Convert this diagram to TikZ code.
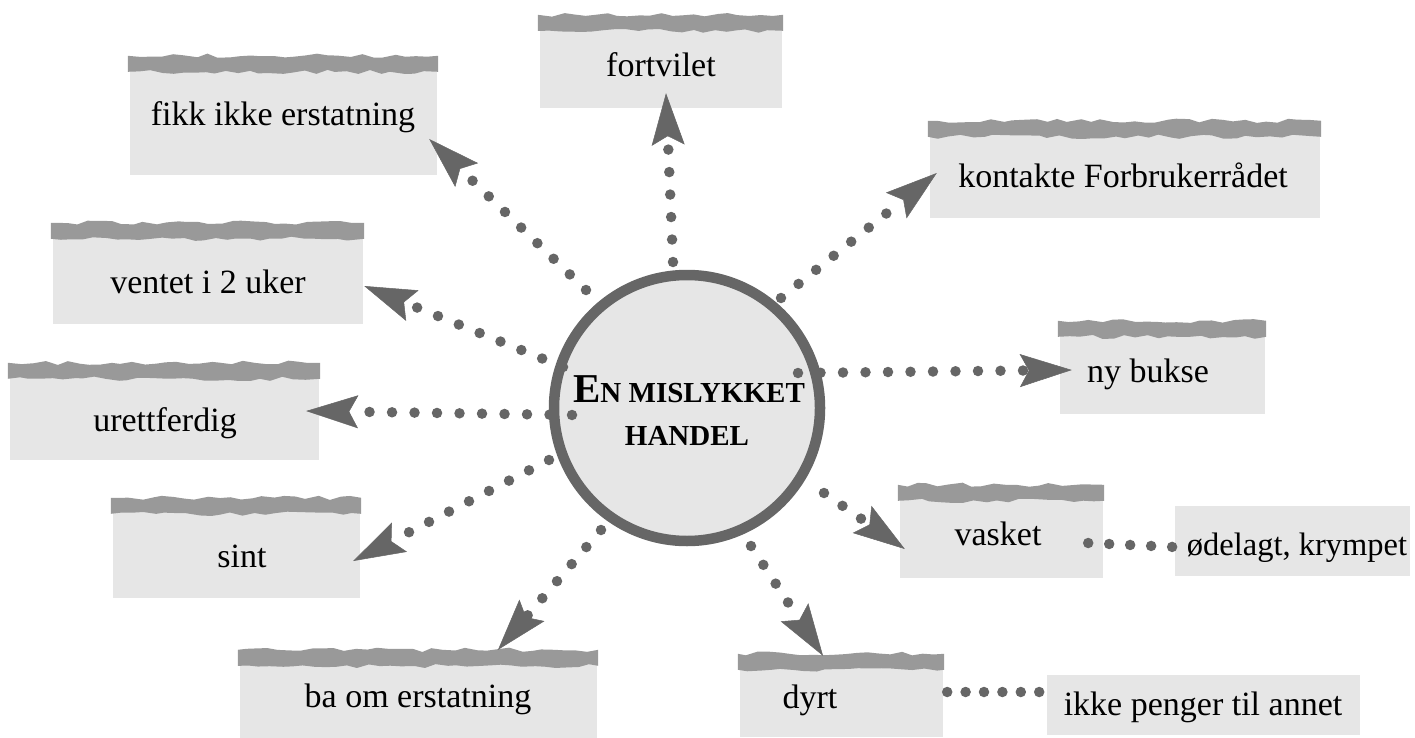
\documentclass[tikz,border=0pt]{standalone}
\usepackage{fontspec}
\setmainfont{Liberation Serif}
\usetikzlibrary{arrows.meta,decorations.pathmorphing,calc}
\definecolor{boxgray}{HTML}{E6E6E6}
\definecolor{stripgray}{HTML}{999999}
\definecolor{dotgray}{HTML}{666666}
\begin{document}
\begin{tikzpicture}[x=1pt,y=-1pt,
  box/.style={fill=boxgray, inner sep=0pt, draw=none},
  lbl/.style={font=\fontsize{34}{38}\selectfont, anchor=base, inner sep=0pt},
  strip/.style={fill=stripgray, decorate, decoration={random steps, segment length=11pt, amplitude=2.2pt}},
  dots/.style={draw=dotgray, line width=10.5pt, line cap=round, dash pattern=on 0pt off 22.5pt},
  arr/.style={dots, -{Stealth[length=52pt, width=33pt, inset=9pt, line width=0.5pt, fill=dotgray]}},
  ttl/.style={anchor=base, inner sep=0pt, font=\bfseries\fontsize{29}{34}\selectfont},
]
\pgfmathsetseed{11}
\useasboundingbox (0,0) rectangle (1415,738);

% boxes
\node[box, minimum width=242pt, minimum height=81pt] (b1) at (661,67.5) {};
\node[box, minimum width=307pt, minimum height=107pt] (b2) at (283.5,121.5) {};
\node[box, minimum width=390pt, minimum height=85pt] (b3) at (1125,175.5) {};
\node[box, minimum width=310pt, minimum height=89pt] (b4) at (208,279.5) {};
\node[box, minimum width=309pt, minimum height=85pt] (b5) at (164.5,417.5) {};
\node[box, minimum width=205pt, minimum height=81pt] (b6) at (1162.5,373.5) {};
\node[box, minimum width=247pt, minimum height=88pt] (b7) at (236.5,554) {};
\node[box, minimum width=357pt, minimum height=76pt] (b8) at (418.5,700) {};
\node[box, minimum width=203pt, minimum height=71pt] (b9) at (841.5,701.5) {};
\node[box, minimum width=203pt, minimum height=81pt] (b10) at (1001.5,537.5) {};
\node[box, minimum width=235pt, minimum height=70pt] (b11) at (1292.5,541) {};
\node[box, minimum width=313pt, minimum height=60pt] (b12) at (1203.5,705) {};

% torn strips
\foreach \b in {b1,b2,b3,b4,b5,b6,b7,b8,b9,b10}{
  \fill[strip] ($(\b.north west)+(-2,-12)$) rectangle ($(\b.north east)+(1,4)$);
}

% plain dotted links
\draw[dots, dash pattern=on 0pt off 21pt] ($(b10.east)+(-15,5.5)$) -- ($(b11.west)+(-1,6)$);
\draw[dots, dash pattern=on 0pt off 18.4pt] ($(b9.east)+(4,-9.5)$) -- ($(b12.west)+(-6,-13)$);

% centre circle fill
\node[circle, fill=boxgray, minimum size=266pt, inner sep=0pt] (c) at (687,408) {};

% arrows
\draw[arr] ($(c.center)+(-14,-146)$) -- ($(b1.south)+(5,-15)$);
\draw[arr] ($(c.center)+(-101,-118)$) -- ($(b2.east)+(-8,17.5)$);
\draw[arr] ($(c.center)+(94,-110)$) -- ($(b3.west)+(7,-2.5)$);
\draw[arr] ($(c.center)+(-124,-41)$) -- ($(b4.east)+(1,6.5)$);
\draw[arr] ($(c.center)+(-115,7)$) -- ($(b5.east)+(-13,-6.5)$);
\draw[arr] ($(c.center)+(111,-35)$) -- ($(b6.west)+(12,-3.5)$);
\draw[arr] ($(c.center)+(-138,52)$) -- ($(b7.east)+(-7,7)$);
\draw[arr] ($(c.center)+(-86,122)$) -- ($(b8.north)+(79.5,-12)$);
\draw[arr] ($(c.center)+(64,138)$) -- ($(b9.north)+(-18.5,-10)$);
\draw[arr] ($(c.center)+(137,85)$) -- ($(b10.west)+(5,11.5)$);

% ring
\draw[dotgray, line width=10.5pt] (c.center) circle (133pt);

% title
\node[ttl] (t0a) at (689,402) {{\fontsize{41}{44}\selectfont E}N MISLYKKET};
\node[ttl] (t0b) at (687,445) {HANDEL};

% labels
\node[lbl] (t1) at (661,77) {fortvilet};
\node[lbl] (t2) at (283,126) {fikk ikke erstatning};
\node[lbl] (t3) at (1123,187) {kontakte Forbrukerrådet};
\node[lbl] (t4) at (208,293) {ventet i 2 uker};
\node[lbl] (t5) at (165,431) {urettferdig};
\node[lbl] (t6) at (1148,382) {ny bukse};
\node[lbl] (t7) at (242,567) {sint};
\node[lbl] (t8) at (418,707) {ba om erstatning};
\node[lbl] (t9) at (810,708) {dyrt};
\node[lbl] (t10) at (998,545) {vasket};
\node[lbl, font=\fontsize{32.5}{36}\selectfont] (t11) at (1297,555) {ødelagt, krympet};
\node[lbl] (t12) at (1203,715) {ikke penger til annet};
\end{tikzpicture}
\end{document}
